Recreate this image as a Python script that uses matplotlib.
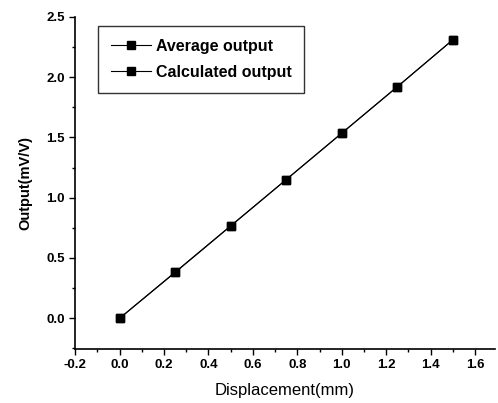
import numpy as np
import matplotlib
matplotlib.use("Agg")
import matplotlib.pyplot as plt
from matplotlib.ticker import MultipleLocator

plt.rcParams["font.family"] = ["Liberation Sans", "DejaVu Sans"]
plt.rcParams["axes.unicode_minus"] = False

displacement = [0.0, 0.25, 0.5, 0.75, 1.0, 1.25, 1.5]
average_output = [0.0, 0.38, 0.765, 1.15, 1.535, 1.92, 2.31]
calculated_output = [0.0, 0.383, 0.767, 1.151, 1.536, 1.921, 2.31]

fig = plt.figure(figsize=(4.98, 4.03), dpi=100)
ax = fig.add_axes([0.151, 0.134, 0.843, 0.824])

ax.plot(displacement, average_output, "-s", color="black", lw=0.8,
        ms=5.5, label="Average output")
ax.plot(displacement, calculated_output, "-s", color="black", lw=0.8,
        ms=5.5, label="Calculated output")

ax.set_xlim(-0.2, 1.69)
ax.set_ylim(-0.255, 2.5)
ax.xaxis.set_major_locator(MultipleLocator(0.2))
ax.xaxis.set_minor_locator(MultipleLocator(0.1))
ax.yaxis.set_major_locator(MultipleLocator(0.5))
ax.yaxis.set_minor_locator(MultipleLocator(0.25))
ax.tick_params(which="both", direction="out", width=1, labelsize=9.5)
ax.tick_params(which="major", length=4)
ax.tick_params(which="minor", length=2)
for lbl in ax.get_xticklabels() + ax.get_yticklabels():
    lbl.set_fontweight("bold")
for side in ("top", "right"):
    ax.spines[side].set_visible(False)
for side in ("left", "bottom"):
    ax.spines[side].set_linewidth(1.2)

ax.set_xlabel("Displacement(mm)", fontsize=12, labelpad=8)
ax.set_ylabel("Output(mV/V)", fontsize=10.5, fontweight="bold", labelpad=10)

leg = ax.legend(loc="upper left", bbox_to_anchor=(0.055, 0.973),
                prop={"size": 11.5, "weight": "bold"}, fancybox=False,
                edgecolor="black", handlelength=2.5, borderpad=0.8,
                labelspacing=0.7, handletextpad=0.3, borderaxespad=0)
leg.get_frame().set_linewidth(1.0)

fig.savefig("out.png", dpi=100)
